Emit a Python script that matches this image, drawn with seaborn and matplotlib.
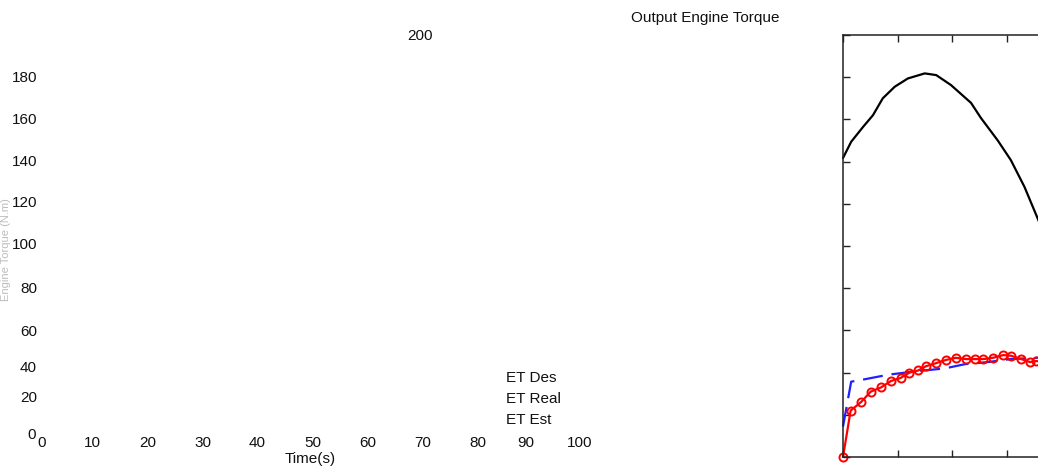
import matplotlib
matplotlib.use("Agg")
import matplotlib.pyplot as plt
import seaborn as sns

# ET Des (black solid)
t_des = [0, 1.5, 3.7, 5.5, 7.3, 9.5, 11.9, 15.0, 17.1, 19.8, 23.5, 25.3, 28.4, 30.8, 33.3, 35.6, 37.0]
et_des = [141.7, 149.4, 156.5, 162.0, 170.0, 175.5, 179.4, 181.8, 181.0, 176.3, 167.8, 160.7, 150.0, 140.7, 128.0, 113.8, 105.0]

# ET Real (red, circles)
t_real = [0, 1.4, 3.3, 5.1, 7.0, 8.8, 10.6, 12.2, 13.8, 15.2, 17.1, 18.9, 20.7, 22.6,
          24.2, 25.7, 27.5, 29.4, 30.8, 32.7, 34.3, 35.4, 37.0]
et_real = [0, 22.0, 26.0, 31.0, 33.0, 36.0, 37.5, 40.0, 41.0, 43.0, 44.5, 46.0, 47.0, 46.4,
           46.4, 46.4, 47.0, 48.3, 48.0, 46.4, 45.0, 45.5, 45.0]

# ET Est (blue dashed)
t_est = [0, 1.5, 3.3, 8.3, 13.0, 18.7, 22.4, 26.6, 30.8, 35.4, 37.0]
et_est = [14.4, 35.7, 36.5, 39.0, 40.5, 42.0, 44.0, 45.0, 46.4, 47.0, 47.2]

ytick_labels = ["200", "180", "160", "140", "120", "100", "80", "60", "40", "20", "0"]
ytick_pos = [(433, 36), (37, 78), (37, 120), (37, 162), (37, 203), (37, 245),
             (37, 289), (37, 332), (37, 368), (37, 398), (36, 435)]
xtick_labels = ["0", "10", "20", "30", "40", "50", "60", "70", "80", "90", "100"]
xtick_x = [42, 92.5, 147.5, 202.5, 257.5, 312.5, 367.5, 422.5, 477.5, 526, 580]
legend_labels = ["ET Des", "ET Real", "ET Est"]

W, H = 1038, 472
sns.set_style("ticks")
plt.rcParams["font.family"] = ["Liberation Sans", "DejaVu Sans"]

fig = plt.figure(figsize=(W / 100, H / 100), dpi=100)
ax = fig.add_axes([843 / W, 15 / H, 545 / W, 422 / H])

sns.lineplot(x=t_des, y=et_des, ax=ax, color="black", linewidth=1.6, clip_on=False)
sns.lineplot(x=t_est, y=et_est, ax=ax, color="#1f1fff", linewidth=1.6,
             linestyle=(0, (9, 4)), clip_on=False)
sns.lineplot(x=t_real, y=et_real, ax=ax, color="red", linewidth=1.6, marker="o",
             markersize=5.8, markerfacecolor="none", markeredgecolor="red",
             markeredgewidth=1.4, clip_on=False)

ax.set_xlim(0, 100)
ax.set_ylim(0, 200)
ax.set_xticks(range(0, 101, 10))
ax.set_yticks(range(0, 201, 20))
ax.tick_params(direction="in", length=5, width=1, color="#222222",
               top=True, right=True, labelleft=False, labelbottom=False)
for s in ax.spines.values():
    s.set_linewidth(1.1)
    s.set_color("#222222")
    s.set_visible(True)
ax.set_xlabel("")
ax.set_ylabel("")

fs = 11
def ftext(x, y, s, **kw):
    fig.text(x / W, 1 - y / H, s, fontsize=fs, color="#111111", va="center", **kw)

for lab, (x, y) in zip(ytick_labels, ytick_pos):
    ftext(x, y, lab, ha="right")
for lab, x in zip(xtick_labels, xtick_x):
    ftext(x, 443, lab, ha="center")
ftext(310, 459, "Time(s)", ha="center")
ftext(705, 18, "Output Engine Torque", ha="center")
for i, lab in enumerate(legend_labels):
    ftext(506, 378 + i * 21, lab, ha="left")
fig.text(6 / W, 1 - 250 / H, "Engine Torque (N.m)", fontsize=8, color="#bdbdbd",
         rotation=90, ha="center", va="center")

fig.savefig("out.png", dpi=100, facecolor="white")
